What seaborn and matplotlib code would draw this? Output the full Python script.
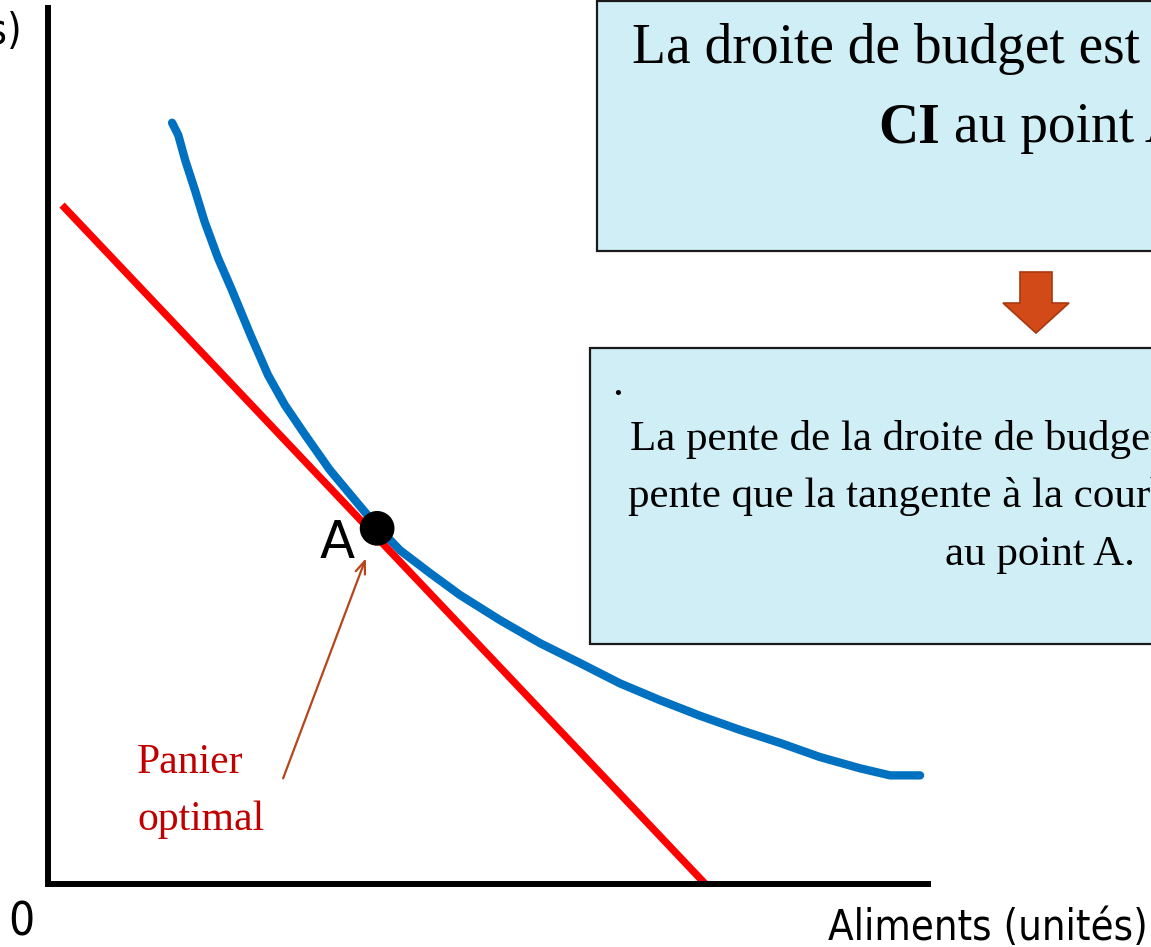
import numpy as np
import pandas as pd
import seaborn as sns
import matplotlib.pyplot as plt
from matplotlib.patches import Rectangle, Polygon

# indifference curve (CI)
ci_x = [1.41, 1.48, 1.56, 1.67, 1.78, 1.93, 2.09, 2.30, 2.50, 2.69, 2.92, 3.20, 3.49, 3.74,
        4.00, 4.34, 4.68, 5.14, 5.59, 6.05, 6.50, 6.95, 7.41, 7.86, 8.32, 8.77, 9.23, 9.57, 9.91]
ci_y = [8.69, 8.55, 8.26, 7.92, 7.56, 7.15, 6.78, 6.27, 5.81, 5.47, 5.13, 4.73, 4.38, 4.08,
        3.81, 3.55, 3.30, 3.01, 2.75, 2.52, 2.29, 2.10, 1.92, 1.76, 1.61, 1.45, 1.32, 1.24, 1.24]

# budget line
budget_x = [0.16, 7.47]
budget_y = [7.75, 0.0]

# optimal basket A
a_x, a_y = 3.74, 4.06

curve = pd.DataFrame({'x': ci_x, 'y': ci_y})
budget = pd.DataFrame({'x': budget_x, 'y': budget_y})

sns.set_style('white')
plt.rcParams['font.family'] = ['Liberation Serif', 'DejaVu Serif']
plt.rcParams['text.color'] = 'black'

W, H = 1151, 947
fig = plt.figure(figsize=(W / 100, H / 100), dpi=100)
ax = fig.add_axes([48 / W, (H - 884) / H, (928 - 48) / W, (884 - 8) / H])

sns.lineplot(data=curve, x='x', y='y', ax=ax, color='#0070C0', lw=6.0, sort=False,
             estimator=None, solid_capstyle='round', solid_joinstyle='round')
sns.lineplot(data=budget, x='x', y='y', ax=ax, color='#FF0000', lw=5.3, sort=False,
             estimator=None, solid_capstyle='butt')
sns.scatterplot(x=[a_x], y=[a_y], ax=ax, s=25 ** 2, color='black', edgecolor='none', zorder=5)

ax.set_xlim(0, 10)
ax.set_ylim(0, 10)
ax.set_xticks([])
ax.set_yticks([])
ax.set_xlabel('')
ax.set_ylabel('')
sns.despine(ax=ax)
for s in ['left', 'bottom']:
    ax.spines[s].set_linewidth(4.3)
    ax.spines[s].set_color('black')

# arrow from "Panier optimal" to A
ax.annotate('', xy=(a_x, a_y), xycoords='data', xytext=(-94, -250), textcoords='offset pixels',
            arrowprops=dict(arrowstyle='->,head_length=0.9,head_width=0.35', color='#B8441A',
                            lw=1.6, shrinkA=0, shrinkB=23))

# overlay in pixel coordinates for the slide decorations
ov = fig.add_axes([0, 0, 1, 1])
ov.set_xlim(0, W)
ov.set_ylim(H, 0)
ov.axis('off')

sans = ['DejaVu Sans']
ov.text(337, 558, 'A', fontsize=37, family=sans, ha='center', va='baseline')
ov.text(8, 935, '0', fontsize=33, family=sans, fontstretch='condensed', va='baseline')
ov.text(1148, 940, 'Aliments (unités)', fontsize=30, family=sans, fontstretch='condensed',
        ha='right', va='baseline')
ov.text(22, 44, 'Vêtements (unités)', fontsize=30, family=sans, fontstretch='condensed',
        ha='right', va='baseline')

ov.text(137, 773, 'Panier', fontsize=30, color='#C00000', va='baseline')
ov.text(137, 830, 'optimal', fontsize=30, color='#C00000', va='baseline')

box_fc = '#CFEEF6'
ov.add_patch(Rectangle((597, 1), 1000, 250, facecolor=box_fc, edgecolor='#1a1a1a', lw=1.6))
ov.add_patch(Rectangle((590, 348), 1000, 296, facecolor=box_fc, edgecolor='#1a1a1a', lw=1.6))

ov.text(632, 63, 'La droite de budget est tangente à la', fontsize=40, va='baseline')
ci = ov.text(878, 142, 'CI', fontsize=40, fontweight='bold', va='baseline')
ov.annotate(' au point A.', xy=(1, 0), xycoords=ci, fontsize=40, va='bottom', ha='left')

ov.text(612, 395, '.', fontsize=31, va='baseline')
ov.text(630, 450, 'La pente de la droite de budget est égale à la', fontsize=31, va='baseline')
ov.text(628, 507, 'pente que la tangente à la courbe d\'indifférence', fontsize=31, va='baseline')
ov.text(945, 565, 'au point A.', fontsize=31, va='baseline')

# block arrow between the boxes
ov.add_patch(Polygon([(1020, 272), (1052, 272), (1052, 303), (1069, 303), (1036, 333),
                      (1003, 303), (1020, 303)], closed=True, facecolor='#D24A17',
                     edgecolor='#A8380F', lw=1.2))

fig.savefig('out.png', dpi=100)
